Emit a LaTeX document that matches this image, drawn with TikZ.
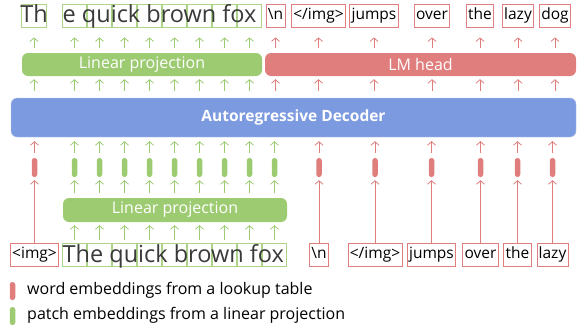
\documentclass[tikz,border=0pt]{standalone}
\usepackage{fontspec}
\setmainfont{Open Sans}
\usetikzlibrary{arrows.meta}
\definecolor{wred}{HTML}{E07D7D}
\definecolor{pgreen}{HTML}{9DCB72}
\definecolor{dblue}{HTML}{7C9AE0}
\definecolor{ptext}{HTML}{3A3A3A}
\tikzset{tok/.style={draw=wred,line width=0.8pt,minimum height=23pt,inner xsep=1.8pt,inner ysep=0pt,text height=11pt,text depth=3.5pt,font=\fontsize{15.5}{17}\selectfont},
  patch/.style={draw=pgreen!85,line width=0.8pt,minimum height=23pt,minimum width=24.5pt,inner sep=0pt},
  bar/.style={rounded corners=6pt,minimum height=23pt,inner sep=0pt,text=white,font=\fontsize{16}{18}\selectfont},
  pill/.style={rounded corners=2.6pt,minimum width=5.5pt,minimum height=19pt,inner sep=0pt},
  rup/.style={->,wred,line width=0.8pt},
  gup/.style={->,pgreen,line width=0.8pt},
  ptxt/.style={inner sep=0pt,text=ptext,font=\fontsize{23.5}{25}\selectfont}}

\begin{document}
\begin{tikzpicture}[x=1pt,y=-1pt,>={Straight Barb[length=3.5pt,width=8pt]}]
    \useasboundingbox (0,0) rectangle (577,329);

    % outputs
    \node[patch] (o0) at (34,15.5) {};
    \node[patch] (o1) at (74.5,15.5) {};
    \node[patch] (o2) at (99.5,15.5) {};
    \node[patch] (o3) at (124.5,15.5) {};
    \node[patch] (o4) at (149.5,15.5) {};
    \node[patch] (o5) at (174.5,15.5) {};
    \node[patch] (o6) at (199.5,15.5) {};
    \node[patch] (o7) at (224.5,15.5) {};
    \node[patch] (o8) at (249.5,15.5) {};
    \node[ptxt,anchor=base] (otxa) at (34,23) {Th};
    \node[ptxt,anchor=base west] (otxb) at (62.5,23) {e quick brown fox};
    \node[tok] (o9) at (275.5,15.5) {\textbackslash n};
    \node[tok] (o10) at (318.5,15.5) {</img>};
    \node[tok] (o11) at (374,15.5) {jumps};
    \node[tok] (o12) at (432,15.5) {over};
    \node[tok] (o13) at (480,15.5) {the};
    \node[tok] (o14) at (518,15.5) {lazy};
    \node[tok] (o15) at (555,15.5) {dog};

    % heads and decoder
    \node[bar,fill=pgreen,minimum width=240pt] (pa) at (142,64.5) {Linear projection};
    \node[bar,fill=wred,minimum width=311pt] (lm) at (420.5,64.5) {LM head};
    \node[bar,fill=dblue,draw=dblue!60,minimum width=565pt,minimum height=39pt,font=\fontsize{15.5}{17}\selectfont\bfseries] (dec) at (293.5,117.5) {Autoregressive Decoder};
    \node[bar,fill=pgreen,minimum width=224pt,minimum height=24pt] (pb) at (175,210) {Linear projection};

    % inputs
    \node[tok] (b0) at (34.5,254.5) {<img>};
    \node[patch] (b1) at (74.5,254.5) {};
    \node[patch] (b2) at (99.5,254.5) {};
    \node[patch] (b3) at (124.5,254.5) {};
    \node[patch] (b4) at (149.5,254.5) {};
    \node[patch] (b5) at (174.5,254.5) {};
    \node[patch] (b6) at (199.5,254.5) {};
    \node[patch] (b7) at (224.5,254.5) {};
    \node[patch] (b8) at (249.5,254.5) {};
    \node[patch] (b9) at (274.5,254.5) {};
    \node[ptxt,anchor=base west] (btx) at (62.5,262) {The quick brown fox};
    \node[tok] (b10) at (319,254.5) {\textbackslash n};
    \node[tok] (b11) at (375,254.5) {</img>};
    \node[tok] (b12) at (431.5,254.5) {jumps};
    \node[tok] (b13) at (480.5,254.5) {over};
    \node[tok] (b14) at (517.5,254.5) {the};
    \node[tok] (b15) at (552.5,254.5) {lazy};

    % embeddings
    \coordinate (prow) at (0,167.5);
    \foreach \i in {0,10,11,12,13,14,15}
        \node[pill,fill=wred] (pl\i) at (b\i |- prow) {};
    \foreach \i in {1,...,9}
        \node[pill,fill=pgreen] (pl\i) at (b\i |- prow) {};

    % arrows
    \foreach \i in {0,...,8} {
        \draw[gup,shorten <=5pt,shorten >=10pt] (pa.north -| o\i) -- (o\i);
        \draw[gup,shorten <=7pt,shorten >=3pt] (dec.north -| o\i) -- (pa.south -| o\i);
    }
    \foreach \i in {9,...,15} {
        \draw[rup,shorten <=5pt,shorten >=10pt] (lm.north -| o\i) -- (o\i);
        \draw[rup,shorten <=7pt,shorten >=3pt] (dec.north -| o\i) -- (lm.south -| o\i);
    }
    \foreach \i in {1,...,9} {
        \draw[gup,shorten <=5pt,shorten >=4pt] (pl\i) -- (dec.south -| pl\i);
        \draw[gup,shorten <=5pt,shorten >=3pt] (pb.north -| pl\i) -- (pl\i);
        \draw[gup,shorten <=3pt,shorten >=3pt] (b\i) -- (pb.south -| b\i);
    }
    \foreach \i in {0,10,11,12,13,14,15} {
        \draw[rup,shorten <=5pt,shorten >=4pt] (pl\i) -- (dec.south -| pl\i);
        \draw[rup,shorten >=3pt] (b\i.north -| pl\i) -- (pl\i);
    }

    % legend
    \node[pill,fill=wred,minimum height=18pt] (kw) at (12.5,291) {};
    \node[anchor=west,inner sep=0pt,font=\fontsize{16}{18}\selectfont] (kwt) at (27,290.5) {word embeddings from a lookup table};
    \node[pill,fill=pgreen,minimum height=18pt] (kp) at (12.5,316) {};
    \node[anchor=west,inner sep=0pt,font=\fontsize{16}{18}\selectfont] (kpt) at (27,315.5) {patch embeddings from a linear projection};
\end{tikzpicture}
\end{document}
